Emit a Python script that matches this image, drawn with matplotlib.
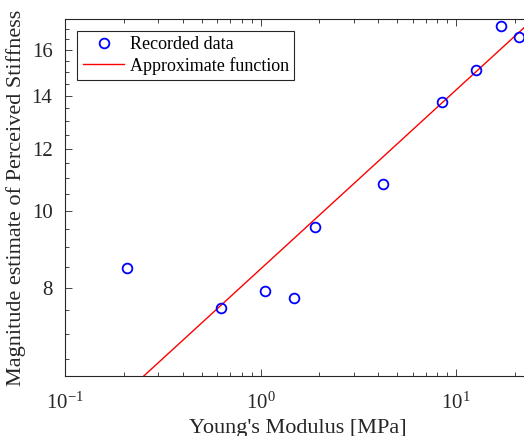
#!/usr/bin/env python3
import numpy as np
import matplotlib as mpl
mpl.use('Agg')
import matplotlib.pyplot as plt
import matplotlib.ticker as ticker

youngs_modulus = [0.207, 0.628, 1.055, 1.48, 1.89, 4.22, 8.45, 12.7, 16.9, 21.1]
perceived = [8.48, 7.55, 7.93, 7.77, 9.56, 10.83, 13.75, 15.07, 17.13, 16.63]

# approximate power-law function y = a * x^b
fit_a = 8.45
fit_b = 0.2264
fit_range = [0.1, 30.0]

ytick_vals = [8, 10, 12, 14, 16]
xtick_vals = [0.1, 1, 10]

mpl.rc('font', family='serif', serif=['Liberation Serif', 'DejaVu Serif'], size=14)
mpl.rcParams['mathtext.fontset'] = 'custom'
mpl.rcParams['mathtext.rm'] = 'Liberation Serif'
mpl.rcParams['mathtext.it'] = 'Liberation Serif:italic'

fig = plt.figure(figsize=(5.24, 4.36), dpi=100)
ax = fig.add_axes([65/524, 1-376/436, 465/524, (376-19)/436])

fx = np.logspace(np.log10(fit_range[0]), np.log10(fit_range[1]), 50)
ax.plot(youngs_modulus, perceived, 'o', mfc='none', mec='#0000ff', mew=1.3, ms=7,
        label='Recorded data', zorder=3)
ax.plot(fx, fit_a * fx**fit_b, '-', color='#ff0000', lw=1.0, label='Approximate function')

ax.set_xscale('log')
ax.set_yscale('log')
ax.set_xlim(0.1, 23.9)
ax.set_ylim(6.19, 17.5)

ax.yaxis.set_major_locator(ticker.FixedLocator(ytick_vals))
ax.yaxis.set_major_formatter(ticker.FixedFormatter([str(v) for v in ytick_vals]))
ax.yaxis.set_minor_locator(ticker.FixedLocator(np.arange(6.5, 17.6, 0.5)))
ax.yaxis.set_minor_formatter(ticker.NullFormatter())
ax.xaxis.set_major_locator(ticker.FixedLocator(xtick_vals))
ax.xaxis.set_minor_locator(ticker.LogLocator(base=10, subs=np.arange(2, 10), numticks=20))
ax.xaxis.set_minor_formatter(ticker.NullFormatter())

ax.tick_params(which='both', direction='in', top=True, right=False, colors='#262626',
               labelsize=15)
ax.tick_params(which='major', length=5, width=0.6, pad=9)
ax.tick_params(which='minor', length=3, width=0.6)
ax.tick_params(axis='x', which='major', pad=12)
for s in ax.spines.values():
    s.set_color('#262626')
    s.set_linewidth(0.8)

ax.set_xlabel("Young's Modulus [MPa]", fontsize=16, color='#262626', labelpad=4)
ax.set_ylabel('Magnitude estimate of Perceived Stiffness', fontsize=16, color='#262626',
              labelpad=4)

leg = ax.legend(loc='upper left', bbox_to_anchor=(0.019, 0.977), fontsize=13,
                fancybox=False, edgecolor='#262626', framealpha=1,
                handlelength=2.3, borderpad=0.3, labelspacing=0.2, handletextpad=0.3,
                borderaxespad=0.2)
leg.get_frame().set_linewidth(0.8)

plt.savefig('out.png', dpi=100)
